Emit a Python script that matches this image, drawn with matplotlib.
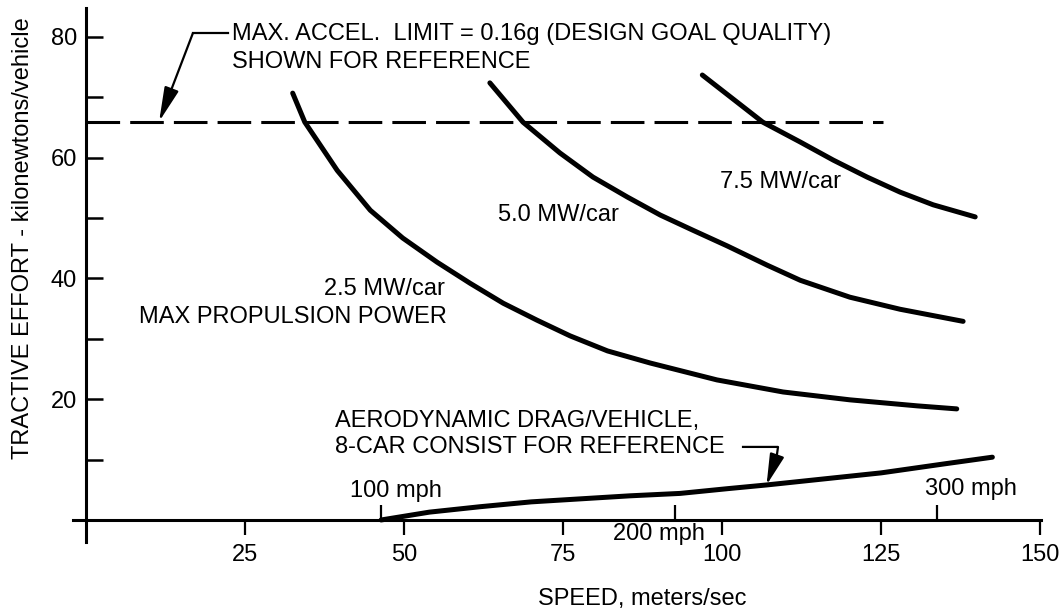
import numpy as np
import matplotlib
matplotlib.use("Agg")
from matplotlib import pyplot as plt

plt.rcParams['font.family'] = ['Liberation Sans', 'DejaVu Sans']
plt.rcParams['font.size'] = 17

# max propulsion power curves, speed (m/s) vs tractive effort (kN/vehicle)
v_25 = [32.5, 34.4, 39.5, 44.7, 49.8, 55.2, 60.4, 65.6, 70.9, 76.1, 82.0,
        88.7, 99.2, 109.6, 120.1, 130.7, 136.9]
f_25 = [70.7, 65.9, 57.9, 51.3, 46.7, 42.7, 39.2, 35.9, 33.1, 30.5, 28.0,
        26.0, 23.2, 21.2, 19.9, 18.9, 18.4]

v_50 = [63.5, 68.7, 74.5, 79.7, 85.1, 90.3, 95.4, 100.8, 107.1, 112.3,
        120.1, 128.0, 137.9]
f_50 = [72.4, 65.9, 60.8, 56.8, 53.5, 50.5, 48.0, 45.4, 42.2, 39.7,
        36.9, 34.9, 32.9]

v_75 = [96.9, 106.4, 112.3, 117.5, 122.8, 128.0, 133.2, 139.8]
f_75 = [73.7, 65.9, 62.6, 59.6, 56.8, 54.3, 52.2, 50.2]

# aerodynamic drag per vehicle, 8-car consist
v_drag = [46.4, 54.0, 62.0, 70.0, 85.5, 93.4, 101.0, 107.0, 125.0, 135.0, 142.5]
f_drag = [0.0, 1.3, 2.2, 3.0, 4.0, 4.4, 5.2, 5.8, 7.8, 9.3, 10.4]

# 0.16g acceleration limit line
accel_limit = 66.0
accel_span = [0.0, 125.3]

# mph reference marks on the speed axis
mph_pos = [46.4, 92.6, 133.8]
mph_labels = ["100 mph", "200 mph", "300 mph"]

x_ticks = [25, 50, 75, 100, 125, 150]
y_major = [20, 40, 60, 80]
y_minor = [10, 30, 50, 70]

fig = plt.figure(figsize=(10.6, 6.11), dpi=100)
ax = fig.add_axes([0.0685, 0.1134, 0.9139, 0.8735])
ax.set_xlim(-2.1, 150.2)
ax.set_ylim(-3.6, 84.8)

for side in ['top', 'right']:
    ax.spines[side].set_visible(False)
ax.spines['left'].set_position(('data', 0))
ax.spines['bottom'].set_position(('data', 0))
ax.spines['left'].set_linewidth(2.2)
ax.spines['bottom'].set_linewidth(2.2)

ax.set_xticks(x_ticks)
ax.set_xticklabels([str(t) for t in x_ticks])
ax.set_yticks(y_major)
ax.set_yticklabels([str(t) for t in y_major])
ax.set_yticks(y_minor, minor=True)
ax.tick_params(axis='x', direction='out', length=11, width=1.6, pad=6)
ax.tick_params(axis='y', which='both', direction='in', length=12, width=1.8, pad=6.5)

# power curves
for v, f in [(v_25, f_25), (v_50, f_50), (v_75, f_75)]:
    ax.plot(v, f, color='black', lw=3.6, solid_capstyle='round', solid_joinstyle='round')
ax.plot(v_drag, f_drag, color='black', lw=3.6, solid_capstyle='round', solid_joinstyle='round')

# acceleration limit
ax.plot(accel_span, [accel_limit, accel_limit], color='black', lw=2.2,
        linestyle=(0, (11, 3.3)))

# mph marks
ax.vlines(mph_pos, 0, 2.5, color='black', lw=1.6)
ax.text(mph_pos[0] + 2.3, 3.8, mph_labels[0], ha='center', va='baseline')
ax.text(mph_pos[1] + 4.7, -3.3, mph_labels[1], ha='right', va='baseline')
ax.text(mph_pos[2] + 5.4, 4.1, mph_labels[2], ha='center', va='baseline')

# curve labels
ax.text(99.7, 55.0, "7.5 MW/car", ha='left', va='baseline')
ax.text(64.8, 49.5, "5.0 MW/car", ha='left', va='baseline')
ax.text(56.5, 37.3, "2.5 MW/car", ha='right', va='baseline')
ax.text(56.7, 32.6, "MAX PROPULSION POWER", ha='right', va='baseline')

# acceleration limit note with leader arrow
ax.text(23.0, 79.5, "MAX. ACCEL.  LIMIT = 0.16g (DESIGN GOAL QUALITY)", ha='left', va='baseline')
ax.text(23.0, 74.9, "SHOWN FOR REFERENCE", ha='left', va='baseline')
ax.plot([22.4, 16.8], [80.6, 80.6], color='black', lw=1.6)
ax.annotate("", xy=(11.5, accel_limit), xytext=(16.8, 80.6),
            arrowprops=dict(arrowstyle='-|>,head_length=2.1,head_width=0.45',
                            mutation_scale=10, color='black', lw=1.6,
                            shrinkA=0, shrinkB=0))

# drag note with leader arrow
ax.text(39.2, 15.4, "AERODYNAMIC DRAG/VEHICLE,", ha='left', va='baseline')
ax.text(39.2, 11.1, "8-CAR CONSIST FOR REFERENCE", ha='left', va='baseline')
tip_v = 107.0
ax.plot([103.3, 108.8, 108.6], [12.1, 12.1, 10.6], color='black', lw=1.6)
ax.annotate("", xy=(tip_v, np.interp(tip_v, v_drag, f_drag)), xytext=(108.6, 10.6),
            arrowprops=dict(arrowstyle='-|>,head_length=1.9,head_width=0.45',
                            mutation_scale=10, color='black', lw=1.6,
                            shrinkA=0, shrinkB=0))

fig.text(23 / 1060, 1 - 238 / 611, "TRACTIVE EFFORT - kilonewtons/vehicle",
         rotation=90, ha='center', va='center')
fig.text(642 / 1060, 1 - 605 / 611, "SPEED, meters/sec", ha='center', va='baseline')

fig.savefig("out.png", dpi=100)
